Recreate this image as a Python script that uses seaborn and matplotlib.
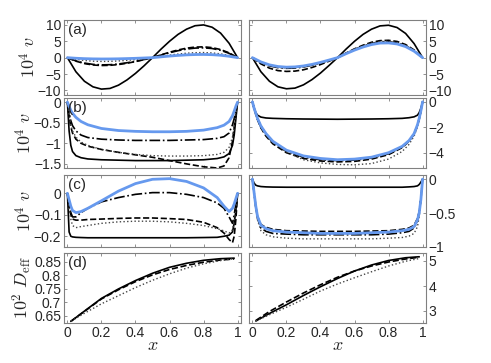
"""
Velocity profiles v(x) and effective diffusion D_eff(x), two parameter sets
"""
import numpy as np
import pandas as pd
import matplotlib
matplotlib.use('Agg')
import matplotlib.pyplot as plt
import seaborn as sns

sns.set_style('ticks')
plt.rcParams['font.family'] = ['Liberation Sans', 'DejaVu Sans']
plt.rcParams['mathtext.fontset'] = 'cm'

# ---- data ----
xa = [0, .05, .1, .15, .2, .25, .3, .35, .4, .45, .5, .55, .6, .65, .7, .75, .8, .85, .9, .95, 1]
xb = [0, .01, .02, .03, .05, .08, .12, .2, .3, .4, .5, .6, .7, .8, .88, .92, .95, .97, .98, .99, 1]
xd = [.02, .1, .2, .3, .4, .5, .6, .7, .8, .9, .98]

# panel (a)
a_left = {
    'solid':   [0, -4.3, -7.2, -8.9, -9.6, -9.4, -8.4, -6.8, -4.8, -2.5, 0, 2.6, 5.0, 7.1, 8.7, 9.75, 10.0, 9.3, 7.5, 4.4, 0],
    'dashed':  [0, -1.07, -1.8, -2.23, -2.4, -2.34, -2.1, -1.7, -1.2, -0.62, 0, 0.85, 1.66, 2.35, 2.9, 3.23, 3.3, 3.07, 2.48, 1.47, 0],
    'dashdot': [0, -1.0, -1.65, -2.05, -2.2, -2.15, -1.93, -1.56, -1.1, -0.57, 0, 0.78, 1.5, 2.13, 2.62, 2.92, 3.0, 2.8, 2.25, 1.33, 0],
    'dotted':  [0, -0.52, -0.86, -1.07, -1.15, -1.12, -1.0, -0.82, -0.58, -0.3, 0, 0.4, 0.78, 1.1, 1.36, 1.52, 1.56, 1.45, 1.17, 0.69, 0],
    'blue':    [0, -0.18, -0.3, -0.37, -0.4, -0.39, -0.35, -0.28, -0.2, -0.1, 0, 0.25, 0.49, 0.69, 0.85, 0.95, 0.98, 0.91, 0.74, 0.43, 0],
}
a_right = {
    'solid':   [0, -4.3, -7.2, -8.9, -9.5, -9.3, -8.3, -6.7, -4.7, -2.4, 0, 2.6, 5.0, 7.1, 8.7, 9.7, 9.9, 9.2, 7.4, 4.3, 0],
    'dashed':  [0, -1.9, -3.2, -3.95, -4.2, -4.1, -3.7, -3.0, -2.1, -1.08, 0, 1.4, 2.7, 3.8, 4.7, 5.2, 5.3, 4.95, 4.0, 2.35, 0],
    'dashdot': [0, -1.5, -2.5, -3.05, -3.25, -3.18, -2.85, -2.3, -1.62, -0.83, 0, 1.3, 2.5, 3.5, 4.3, 4.78, 4.85, 4.5, 3.65, 2.15, 0],
    'dotted':  [0, -1.45, -2.42, -2.98, -3.18, -3.1, -2.78, -2.25, -1.58, -0.8, 0, 1.33, 2.55, 3.6, 4.45, 4.95, 5.0, 4.65, 3.75, 2.2, 0],
    'blue':    [0, -1.3, -2.2, -2.7, -2.9, -2.82, -2.53, -2.05, -1.44, -0.73, 0, 1.2, 2.3, 3.25, 4.0, 4.45, 4.5, 4.18, 3.38, 1.98, 0],
}

# panel (b)
b_left = {
    'solid':   [0, -0.7, -1.05, -1.2, -1.3, -1.35, -1.38, -1.4, -1.41, -1.42, -1.42, -1.42, -1.41, -1.4, -1.37, -1.33, -1.25, -1.05, -0.8, -0.4, 0],
    'dashed':  [0, -0.35, -0.6, -0.75, -0.9, -1.0, -1.07, -1.15, -1.22, -1.28, -1.34, -1.42, -1.5, -1.57, -1.6, -1.55, -1.35, -0.95, -0.6, -0.25, 0],
    'dashdot': [0, -0.25, -0.45, -0.57, -0.7, -0.8, -0.86, -0.9, -0.92, -0.93, -0.93, -0.93, -0.92, -0.91, -0.88, -0.84, -0.75, -0.55, -0.4, -0.2, 0],
    'dotted':  [0, -0.3, -0.55, -0.7, -0.85, -0.97, -1.05, -1.15, -1.22, -1.27, -1.3, -1.31, -1.31, -1.3, -1.27, -1.22, -1.1, -0.85, -0.6, -0.3, 0],
    'blue':    [0, -0.1, -0.2, -0.27, -0.37, -0.47, -0.55, -0.64, -0.69, -0.71, -0.72, -0.72, -0.71, -0.68, -0.62, -0.56, -0.47, -0.33, -0.22, -0.1, 0],
}
b_right = {
    'solid':   [0, -0.5, -0.85, -1.05, -1.2, -1.27, -1.3, -1.33, -1.35, -1.36, -1.37, -1.36, -1.35, -1.33, -1.3, -1.25, -1.18, -1.05, -0.85, -0.5, 0],
    'dashed':  [0, -0.55, -1.0, -1.4, -2.05, -2.7, -3.3, -4.0, -4.45, -4.65, -4.72, -4.68, -4.5, -4.15, -3.6, -3.1, -2.55, -1.85, -1.35, -0.75, 0],
    'dashdot': [0, -0.5, -0.95, -1.35, -2.0, -2.6, -3.2, -3.9, -4.35, -4.55, -4.62, -4.58, -4.42, -4.08, -3.55, -3.08, -2.52, -1.82, -1.32, -0.72, 0],
    'dotted':  [0, -0.45, -0.85, -1.25, -1.85, -2.5, -3.1, -3.95, -4.55, -4.8, -4.92, -4.95, -4.85, -4.5, -3.9, -3.35, -2.7, -1.95, -1.4, -0.75, 0],
    'blue':    [0, -0.5, -0.9, -1.3, -1.9, -2.5, -3.1, -3.8, -4.25, -4.45, -4.55, -4.5, -4.35, -4.0, -3.5, -3.05, -2.5, -1.8, -1.3, -0.7, 0],
}

# panel (c)
c_left = {
    'solid':   [0, -0.18, -0.2, -0.203, -0.205, -0.206, -0.207, -0.207, -0.207, -0.207, -0.207, -0.207, -0.207, -0.206, -0.205, -0.2, -0.195, -0.18, -0.14, -0.08, 0],
    'dashed':  [0, -0.06, -0.1, -0.12, -0.125, -0.125, -0.122, -0.12, -0.117, -0.115, -0.115, -0.118, -0.122, -0.135, -0.16, -0.185, -0.215, -0.23, -0.2, -0.12, 0],
    'dashdot': [0, -0.05, -0.09, -0.11, -0.11, -0.09, -0.07, -0.04, -0.02, -0.005, 0.003, 0.003, -0.005, -0.02, -0.045, -0.07, -0.11, -0.14, -0.1, -0.05, 0],
    'dotted':  [0, -0.07, -0.12, -0.15, -0.16, -0.155, -0.15, -0.14, -0.133, -0.13, -0.13, -0.133, -0.14, -0.15, -0.165, -0.175, -0.185, -0.17, -0.13, -0.07, 0],
    'blue':    [0, -0.03, -0.06, -0.08, -0.09, -0.085, -0.07, -0.035, 0.01, 0.045, 0.065, 0.068, 0.055, 0.025, -0.02, -0.06, -0.085, -0.07, -0.05, -0.025, 0],
}
c_right = {
    'solid':   [0, -0.06, -0.09, -0.1, -0.11, -0.115, -0.118, -0.12, -0.12, -0.12, -0.12, -0.12, -0.12, -0.12, -0.12, -0.115, -0.11, -0.1, -0.08, -0.045, 0],
    'dashed':  [0, -0.2, -0.4, -0.55, -0.67, -0.71, -0.74, -0.76, -0.765, -0.77, -0.77, -0.77, -0.765, -0.76, -0.74, -0.72, -0.68, -0.58, -0.48, -0.28, 0],
    'dashdot': [0, -0.2, -0.42, -0.58, -0.72, -0.77, -0.8, -0.81, -0.82, -0.82, -0.82, -0.82, -0.82, -0.81, -0.79, -0.77, -0.72, -0.62, -0.5, -0.3, 0],
    'dotted':  [0, -0.2, -0.42, -0.6, -0.76, -0.82, -0.85, -0.87, -0.88, -0.88, -0.88, -0.88, -0.88, -0.87, -0.86, -0.84, -0.8, -0.7, -0.55, -0.32, 0],
    'blue':    [0, -0.2, -0.4, -0.55, -0.68, -0.73, -0.76, -0.78, -0.79, -0.8, -0.8, -0.8, -0.79, -0.78, -0.76, -0.74, -0.7, -0.6, -0.5, -0.3, 0],
}

# panel (d)
d_left = {
    'solid':  [0.63, 0.668, 0.715, 0.75, 0.781, 0.808, 0.83, 0.845, 0.856, 0.862, 0.864],
    'dashed': [0.63, 0.667, 0.713, 0.747, 0.777, 0.802, 0.822, 0.837, 0.849, 0.857, 0.861],
    'dotted': [0.63, 0.66, 0.695, 0.725, 0.755, 0.782, 0.806, 0.827, 0.843, 0.855, 0.862],
}
d_right = {
    'solid':  [2.6, 2.9, 3.25, 3.62, 3.97, 4.3, 4.6, 4.84, 5.02, 5.13, 5.17],
    'dashed': [2.62, 2.98, 3.36, 3.72, 4.05, 4.35, 4.6, 4.8, 4.96, 5.08, 5.15],
    'dotted': [2.6, 2.85, 3.15, 3.47, 3.8, 4.08, 4.33, 4.57, 4.8, 4.99, 5.1],
}

styles = {
    'solid':   dict(color='black', linestyle='-', lw=1.2),
    'dashed':  dict(color='black', linestyle='--', lw=1.2),
    'dashdot': dict(color='black', linestyle='-.', lw=1.2),
    'dotted':  dict(color='#444444', linestyle=':', lw=1.0),
    'blue':    dict(color='#6699ee', linestyle='-', lw=2.0),
}

panels = [
    (xa, a_left, a_right, (-11.4, 11.5), [-10, -5, 0, 5, 10], (-11.4, 11.5), [-10, -5, 0, 5, 10]),
    (xb, b_left, b_right, (-1.6, 0.1), [-1.5, -1, -0.5, 0], (-5.2, 0.3), [-4, -2, 0]),
    (xb, c_left, c_right, (-0.25, 0.085), [-0.2, -0.1, 0], (-1.0, 0.06), [-1, -0.5, 0]),
    (xd, d_left, d_right, (0.624, 0.883), [0.65, 0.7, 0.75, 0.8, 0.85], (2.52, 5.32), [3, 4, 5]),
]
labels = ['(a)', '(b)', '(c)', '(d)']
rows_px = [(20, 95), (98, 168), (175, 247), (253, 323)]
W, H = 491, 363

fig = plt.figure(figsize=(W / 100, H / 100), dpi=100)
gray = '#808080'

for r, (xs, left, right, ylo, yto, yro, ytr) in enumerate(panels):
    top, bot = rows_px[r]
    for c, (data, ylim, yt) in enumerate([(left, ylo, yto), (right, yro, ytr)]):
        x0 = 64 if c == 0 else 249
        ax = fig.add_axes([x0 / W, 1 - bot / H, 177 / W, (bot - top) / H])
        for name, ys in data.items():
            sns.lineplot(x=xs, y=ys, ax=ax, **styles[name])
        ax.set_xlim(-0.02, 1.02)
        ax.set_ylim(*ylim)
        ax.set_xticks([0, 0.2, 0.4, 0.6, 0.8, 1])
        ax.set_yticks(yt)
        ax.set_yticklabels([f'{t:g}'.replace('-', '\u2212') for t in yt])
        ax.tick_params(direction='in', length=2.5, width=0.6, color=gray,
                       top=True, right=True, left=True, bottom=True,
                       labelsize=10, pad=2)
        for s in ax.spines.values():
            s.set_color(gray)
            s.set_linewidth(0.8)
        if c == 1:
            ax.tick_params(labelleft=False, labelright=True)
        if r < 3:
            ax.tick_params(labelbottom=False)
            ax.set_xlabel('')
        else:
            ax.set_xticklabels(['0', '0.2', '0.4', '0.6', '0.8', '1'])
            ax.set_xlabel('$x$', fontsize=13, labelpad=-2)
        ax.set_ylabel('')
        if c == 0:
            ax.text(0.02, 0.96, labels[r], transform=ax.transAxes,
                    ha='left', va='top', fontsize=11)
            lab = '$10^4\\ v$' if r < 3 else '$10^2\\ D_{\\rm eff}$'
            ax.set_ylabel(lab, fontsize=13, labelpad=-1 if r < 3 else 0)

fig.savefig('out.png', dpi=100)
plt.close(fig)
